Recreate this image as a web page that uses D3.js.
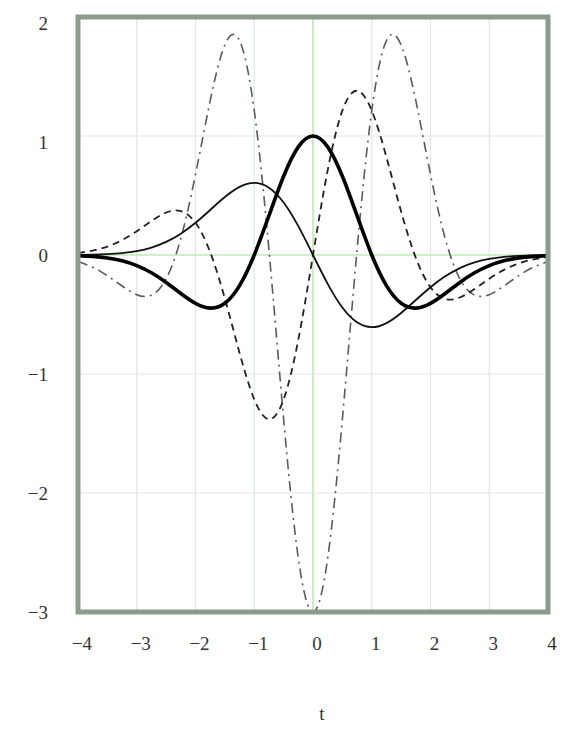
<!DOCTYPE html>
<html>
<head>
<meta charset="utf-8">
<script src="https://cdn.jsdelivr.net/npm/d3@7"></script>
<style>
html,body{margin:0;padding:0;background:#fff;}
svg{display:block;}
</style>
</head>
<body>
<svg id="chart" width="571" height="729"></svg>
<script>
// sample positions t
const tValues = [-4,-3.75,-3.5,-3.25,-3,-2.75,-2.5,-2.25,-2,-1.75,-1.5,-1.25,-1,-0.75,-0.5,-0.25,0,0.25,0.5,0.75,1,1.25,1.5,1.75,2,2.25,2.5,2.75,3,3.25,3.5,3.75,4];
// thin solid
const series1 = [0.0013,0.0033,0.0077,0.0165,0.0333,0.0627,0.1098,0.1790,0.2707,0.3785,0.4870,0.5723,0.6065,0.5661,0.4413,0.2423,0,-0.2423,-0.4413,-0.5661,-0.6065,-0.5723,-0.4870,-0.3785,-0.2707,-0.1790,-0.1098,-0.0627,-0.0333,-0.0165,-0.0077,-0.0033,-0.0013];
// thick solid
const series2 = [-0.0050,-0.0115,-0.0246,-0.0486,-0.0889,-0.1496,-0.2307,-0.3232,-0.4060,-0.4461,-0.4058,-0.2575,0,0.3302,0.6619,0.9087,1,0.9087,0.6619,0.3302,0,-0.2575,-0.4058,-0.4461,-0.4060,-0.3232,-0.2307,-0.1496,-0.0889,-0.0486,-0.0246,-0.0115,-0.0050];
// dashed
const series3 = [0.0174,0.0367,0.0708,0.1250,0.2000,0.2860,0.3570,0.3692,0.2707,0.0237,-0.3652,-0.8227,-1.2131,-1.3800,-1.2134,-0.7118,0,0.7118,1.2134,1.3800,1.2131,0.8227,0.3652,-0.0237,-0.2707,-0.3692,-0.3570,-0.2860,-0.2000,-0.1250,-0.0708,-0.0367,-0.0174];
// dash-dot
const series4 = [-0.0546,-0.1029,-0.1740,-0.2604,-0.3333,-0.3377,-0.2005,0.1389,0.6767,1.2968,1.7653,1.8009,1.2131,0.0442,-1.3789,-2.5480,-3,-2.5480,-1.3789,0.0442,1.2131,1.8009,1.7653,1.2968,0.6767,0.1389,-0.2005,-0.3377,-0.3333,-0.2604,-0.1740,-0.1029,-0.0546];
const xTicks = [-4,-3,-2,-1,0,1,2,3,4];
const yTicks = [-3,-2,-1,0,1,2];
const xTickLabels = ["\u22124","\u22123","\u22122","\u22121","0","1","2","3","4"];
const yTickLabels = ["\u22123","\u22122","\u22121","0","1","2"];
const xTitle = "t";

(function(){
const svg = d3.select("#chart");
const L = 78, R = 548, T = 17, B = 612;
const x = d3.scaleLinear().domain([-4,4]).range([L,R]);
const y = d3.scaleLinear().domain([-3,2]).range([B,T]);

svg.append("defs").append("clipPath").attr("id","clip")
  .append("rect").attr("x",L).attr("y",T).attr("width",R-L).attr("height",B-T);

// grid
const grid = svg.append("g");
grid.selectAll("line.gx").data(xTicks.filter(d=>d>-4&&d<4)).join("line")
  .attr("x1",d=>x(d)).attr("x2",d=>x(d)).attr("y1",T).attr("y2",B)
  .attr("stroke",d=>d===0?"#bfe8b8":"#dde9dd").attr("stroke-width",d=>d===0?1.6:1.2);
grid.selectAll("line.gy").data(yTicks.filter(d=>d>-3&&d<2)).join("line")
  .attr("y1",d=>y(d)).attr("y2",d=>y(d)).attr("x1",L).attr("x2",R)
  .attr("stroke",d=>d===0?"#bfe8b8":"#dde9dd").attr("stroke-width",d=>d===0?1.6:1.2);

const line = vals => d3.line().curve(d3.curveNatural)
  .x((d,i)=>x(tValues[i])).y(d=>y(d))(vals);

const curves = svg.append("g").attr("clip-path","url(#clip)");
curves.append("path").attr("d",line(series4)).attr("fill","none")
  .attr("stroke","#5a5a5a").attr("stroke-width",1.6).attr("stroke-dasharray","10,5,2,5");
curves.append("path").attr("d",line(series3)).attr("fill","none")
  .attr("stroke","#222").attr("stroke-width",1.8).attr("stroke-dasharray","7,5");
curves.append("path").attr("d",line(series1)).attr("fill","none")
  .attr("stroke","#111").attr("stroke-width",1.8);
curves.append("path").attr("d",line(series2)).attr("fill","none")
  .attr("stroke","#000").attr("stroke-width",3.6);

// frame
svg.append("rect").attr("x",L).attr("y",T).attr("width",R-L).attr("height",B-T)
  .attr("fill","none").attr("stroke","#8c9b8c").attr("stroke-width",5);

// tick labels
const font = "'Liberation Serif','DejaVu Serif',serif";
svg.append("g").selectAll("text").data(yTicks).join("text")
  .attr("x",48).attr("y",d=>y(d)+(d>0?6:0)).attr("dy","0.35em")
  .attr("text-anchor","end").attr("font-family",font).attr("font-size",19).attr("fill","#333")
  .text((d,i)=>yTickLabels[i]);
svg.append("g").selectAll("text").data(xTicks).join("text")
  .attr("x",d=>x(d)+4).attr("y",643).attr("dy","0.35em")
  .attr("text-anchor","middle").attr("font-family",font).attr("font-size",19).attr("fill","#333")
  .text((d,i)=>xTickLabels[i]);
svg.append("text").attr("x",322).attr("y",713).attr("dy","0.35em").attr("text-anchor","middle")
  .attr("font-family",font).attr("font-size",19).attr("fill","#333").text(xTitle);
})();
</script>
</body>
</html>
